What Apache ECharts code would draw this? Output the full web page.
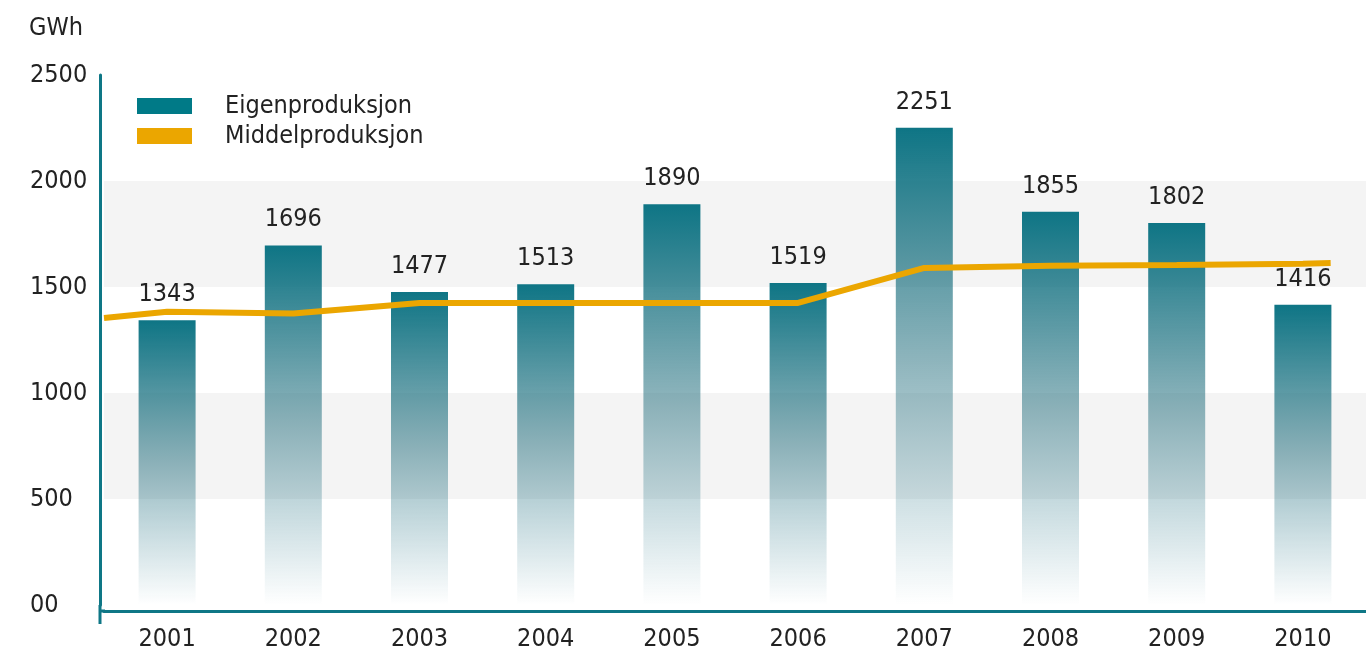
<!DOCTYPE html>
<html>
<head>
<meta charset="utf-8">
<script src="https://cdn.jsdelivr.net/npm/echarts@6/dist/echarts.min.js"></script>
<style>
  html, body { margin: 0; padding: 0; background: #fff; }
  #chart { width: 1366px; height: 654px; }
</style>
</head>
<body>
<div id="chart"></div>
<script>
// data
var years = ['2001', '2002', '2003', '2004', '2005', '2006', '2007', '2008', '2009', '2010'];
var eigenproduksjon = [1343, 1696, 1477, 1513, 1890, 1519, 2251, 1855, 1802, 1416];
var middelproduksjon = [1383, 1375, 1425, 1425, 1425, 1425, 1590, 1600, 1604, 1610];
// the mean line runs on past the first and last year
var middelStart = 1354;
var middelEnd = 1613;
var yTickLabels = ['00', '500', '1000', '1500', '2000', '2500'];

var FONT = "'Liberation Sans Narrow', 'DejaVu Sans Condensed', sans-serif";
var FS = 25;
var TEAL = '#0e7786';
var ORANGE = '#eba600';

// line points on a hidden value axis so it can reach the plot edges
var linePoints = [[0, middelStart]];
middelproduksjon.forEach(function (v, i) { linePoints.push([i + 0.5, v]); });
linePoints.push([9.72, middelEnd]);

var myChart = echarts.init(document.getElementById('chart'));

myChart.setOption({
    animation: false,
    title: {
        text: 'GWh',
        left: 24,
        top: 11,
        textStyle: { fontFamily: FONT, fontSize: FS, fontWeight: 'normal', color: '#222' }
    },
    legend: {
        orient: 'vertical',
        left: 132,
        top: 86,
        itemWidth: 55,
        itemHeight: 16,
        itemGap: 0,
        selectedMode: false,
        textStyle: { fontFamily: FONT, fontSize: FS, color: '#222', lineHeight: 30, padding: [0, 0, 0, 28] },
        data: [
            { name: 'Eigenproduksjon', icon: 'rect', itemStyle: { color: '#007a87' } },
            { name: 'Middelproduksjon', icon: 'rect', itemStyle: { color: ORANGE } }
        ]
    },
    grid: {
        left: 104,
        right: -17,
        top: 75,
        bottom: 49
    },
    xAxis: [
        {
            type: 'category',
            data: years,
            offset: 6,
            axisLine: { onZero: false, lineStyle: { color: TEAL, width: 3 } },
            axisTick: { show: false },
            axisLabel: { fontFamily: FONT, fontSize: FS, color: '#222', margin: 16 }
        },
        {
            type: 'value',
            min: 0,
            max: 10,
            show: false
        }
    ],
    yAxis: {
        type: 'value',
        min: 0,
        max: 2500,
        interval: 500,
        offset: 4,
        axisLine: { show: true, onZero: false, lineStyle: { color: TEAL, width: 3 } },
        axisTick: { show: false },
        splitLine: { show: false },
        splitArea: { show: true, areaStyle: { color: ['rgba(0,0,0,0)', '#f4f4f4'] } },
        axisLabel: {
            fontFamily: FONT,
            fontSize: FS,
            color: '#222',
            align: 'left',
            margin: 70,
            formatter: function (v) { return yTickLabels[v / 500]; }
        }
    },
    series: [
        {
            name: 'Eigenproduksjon',
            type: 'bar',
            data: eigenproduksjon,
            barWidth: 57,
            itemStyle: {
                color: new echarts.graphic.LinearGradient(0, 0, 0, 1, [
                    { offset: 0, color: 'rgba(14,117,133,1)' },
                    { offset: 0.5, color: 'rgba(35,110,125,0.5)' },
                    { offset: 1, color: 'rgba(40,120,140,0)' }
                ])
            },
            label: {
                show: true,
                position: 'top',
                distance: 13,
                fontFamily: FONT,
                fontSize: FS,
                color: '#222'
            }
        },
        {
            name: 'Middelproduksjon',
            type: 'line',
            xAxisIndex: 1,
            data: linePoints,
            symbol: 'none',
            z: 5,
            lineStyle: { color: ORANGE, width: 6 }
        }
    ]
});

// the y axis line runs a little below the x axis, and the x axis reaches back to it
var origin = myChart.convertToPixel({ xAxisIndex: 1, yAxisIndex: 0 }, [0, 0]);
myChart.setOption({
    graphic: [
        {
            type: 'line',
            shape: { x1: origin[0] - 4, y1: origin[1], x2: origin[0] - 4, y2: origin[1] + 19 },
            style: { stroke: TEAL, lineWidth: 3 }
        },
        {
            type: 'line',
            shape: { x1: origin[0] - 4, y1: origin[1] + 6, x2: origin[0] + 1, y2: origin[1] + 6 },
            style: { stroke: TEAL, lineWidth: 3 }
        }
    ]
});
</script>
</body>
</html>
